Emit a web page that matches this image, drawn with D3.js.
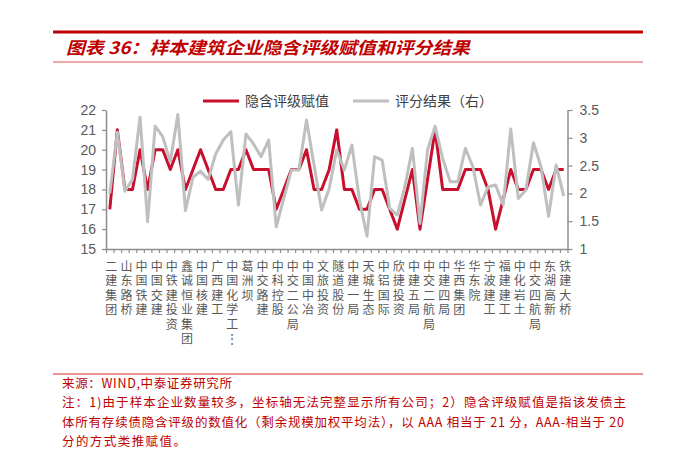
<!DOCTYPE html>
<html>
<head>
<meta charset="utf-8">
<script src="https://cdn.jsdelivr.net/npm/d3@7"></script>
<style>
  body { margin: 0; background: #fff; }
  svg { font-family: "Noto Sans CJK SC", "Liberation Sans", sans-serif; }
  .tick text { font-family: "Liberation Sans", Arial, sans-serif; }
  .cat { font-family: "Liberation Sans", "Noto Sans CJK SC", sans-serif; }
</style>
</head>
<body>
<div id="chart"></div>
<script>
// 61 companies on the x axis, only every second one gets a label in the original
var labels = ["二建集团", "山东路桥", "中国铁建", "中国交建", "中铁建投资", "鑫诚恒业集团",
  "中国核建", "广西建工", "中国化学工⋮", "葛洲坝", "中交路建", "中科控股", "中交二公局",
  "中国中冶", "文旅投资", "隧道股份", "中建一局", "天城生态", "中铝国际", "欣捷投资",
  "中建五局", "中交二航局", "中建四局", "华西集团", "华东院", "宁波建工", "福建建工",
  "中化岩土", "中交四航局", "东湖高新", "铁建大桥"];

// 隐含评级赋值 (left axis)
var ratingValues = [17, 21, 18, 18, 20, 18, 20, 20, 19, 20,
  18, 19, 20, 19, 18, 18, 19, 19, 20, 19,
  19, 19, 17, 18, 19, 19, 20, 18, 18, 19,
  21, 18, 18, 17, 17, 18, 18, 17, 16, 17.5,
  19, 16, 18.5, 21, 18, 18, 18, 19, 19, 19,
  18, 16, 17.5, 19, 18, 18, 19, 19, 18, 19, 19];

// 评分结果 (right axis)
var scoreValues = [2.0, 3.1, 2.04, 2.25, 3.37, 1.49, 3.21, 3.02, 2.57, 3.42,
  1.69, 2.29, 2.4, 2.25, 2.71, 2.96, 3.11, 1.79, 3.07, 2.89,
  2.66, 2.96, 1.4, 1.91, 2.42, 2.42, 3.32, 2.51, 1.7, 2.09,
  2.78, 2.42, 2.87, 1.88, 1.23, 2.66, 2.6, 1.73, 1.61, 2.12,
  2.81, 1.46, 2.78, 3.21, 2.63, 2.21, 2.21, 2.81, 2.48, 1.79,
  2.12, 2.15, 1.79, 3.16, 1.91, 2.06, 2.91, 2.48, 1.59, 2.51, 1.95];

var leftTicks = [15, 16, 17, 18, 19, 20, 21, 22];
var rightTicks = [1, 1.5, 2, 2.5, 3, 3.5];

var svgWidth = 700;
var svgHeight = 462;
var plot = { left: 106, right: 567.5, top: 110, bottom: 249 };

var red = "#C8102E";
var grey = "#BFBFBF";
var axisGrey = "#8C8C8C";
var textGrey = "#595959";
var titleRed = "#C00000";

var svg = d3.select("#chart")
  .append("svg")
  .attr("width", svgWidth)
  .attr("height", svgHeight);

// title block
svg.append("line")
  .attr("x1", 53).attr("x2", 643)
  .attr("y1", 32).attr("y2", 32)
  .attr("stroke", titleRed)
  .attr("stroke-width", 3);

svg.append("text")
  .attr("x", 66)
  .attr("y", 54)
  .attr("fill", titleRed)
  .attr("font-size", 17)
  .attr("font-weight", "bold")
  .attr("font-style", "italic")
  .attr("textLength", 404)
  .attr("lengthAdjust", "spacingAndGlyphs")
  .text("图表 36：样本建筑企业隐含评级赋值和评分结果");

svg.append("line")
  .attr("x1", 53).attr("x2", 643)
  .attr("y1", 62).attr("y2", 62)
  .attr("stroke", "#D9534F")
  .attr("stroke-width", 1);

// scales
var n = ratingValues.length;
var x = d3.scaleBand()
  .domain(d3.range(n))
  .range([plot.left, plot.right])
  .paddingInner(0)
  .paddingOuter(0);

var xEdge = d3.scaleLinear()
  .domain([0, n])
  .range([plot.left, plot.right]);

var yLeft = d3.scaleLinear()
  .domain([15, 22])
  .range([plot.bottom, plot.top]);

var yRight = d3.scaleLinear()
  .domain([1, 3.5])
  .range([plot.bottom, plot.top]);

var cx = i => x(i) + x.bandwidth() / 2;

// axes
var leftAxis = svg.append("g")
  .attr("transform", `translate(${plot.left}, 0)`)
  .call(d3.axisLeft(yLeft).tickValues(leftTicks).tickSize(4).tickSizeOuter(0).tickPadding(6)
    .tickFormat(d => String(d)));

var rightAxis = svg.append("g")
  .attr("transform", `translate(${plot.right}, 0)`)
  .call(d3.axisRight(yRight).tickValues(rightTicks).tickSize(5).tickSizeOuter(0).tickPadding(7)
    .tickFormat(d => String(d)));

var bottomAxis = svg.append("g")
  .attr("transform", `translate(0, ${plot.bottom})`)
  .call(d3.axisBottom(xEdge).tickValues(d3.range(n + 1)).tickSize(4).tickSizeOuter(0).tickFormat(""));

[leftAxis, rightAxis, bottomAxis].forEach(function(g) {
  g.select(".domain").attr("stroke", axisGrey).attr("stroke-width", 1.5);
  g.selectAll(".tick line").attr("stroke", axisGrey).attr("stroke-width", 1.2);
  g.selectAll(".tick text")
    .attr("fill", textGrey)
    .attr("font-size", 14);
});

// vertical category labels, every second company, one character per row
var labelGroup = svg.append("g");
labels.forEach(function(name, k) {
  Array.from(name).forEach(function(ch, j) {
    labelGroup.append("text")
      .classed("cat", true)
      .attr("text-anchor", "middle")
      .attr("fill", textGrey)
      .attr("font-size", 12)
      .attr("x", cx(k * 2) + 1.5)
      .attr("y", 271 + j * 14.4)
      .text(ch);
  });
});

// lines
var ratingLine = d3.line()
  .x((d, i) => cx(i))
  .y(d => yLeft(d));

var scoreLine = d3.line()
  .x((d, i) => cx(i))
  .y(d => yRight(d));

svg.append("path")
  .datum(ratingValues)
  .attr("fill", "none")
  .attr("stroke", red)
  .attr("stroke-width", 3)
  .attr("stroke-linejoin", "round")
  .attr("d", ratingLine);

svg.append("path")
  .datum(scoreValues)
  .attr("fill", "none")
  .attr("stroke", grey)
  .attr("stroke-width", 3)
  .attr("stroke-linejoin", "round")
  .attr("d", scoreLine);

// legend
var legend = [
  { name: "隐含评级赋值", color: red, x: 203 },
  { name: "评分结果（右）", color: grey, x: 353 }
];
legend.forEach(function(item) {
  svg.append("line")
    .attr("x1", item.x).attr("x2", item.x + 36)
    .attr("y1", 101).attr("y2", 101)
    .attr("stroke", item.color)
    .attr("stroke-width", 3);
  svg.append("text")
    .attr("x", item.x + 42)
    .attr("y", 106)
    .attr("fill", "#404040")
    .attr("font-size", 14)
    .text(item.name);
});

// footer
svg.append("line")
  .attr("x1", 53).attr("x2", 643)
  .attr("y1", 374).attr("y2", 374)
  .attr("stroke", "#E07070")
  .attr("stroke-width", 1.5);

var notes = [
  { text: "来源：WIND,中泰证券研究所", y: 388, len: 170 },
  { text: "注：1)由于样本企业数量较多，坐标轴无法完整显示所有公司；2）隐含评级赋值是指该发债主", y: 407, len: 564 },
  { text: "体所有存续债隐含评级的数值化（剩余规模加权平均法），以 AAA 相当于 21 分，AAA-相当于 20", y: 427, len: 562 },
  { text: "分的方式类推赋值。", y: 446, len: 124 }
];
notes.forEach(function(note) {
  svg.append("text")
    .attr("x", 62)
    .attr("y", note.y)
    .attr("fill", titleRed)
    .attr("font-size", 12.5)
    .attr("textLength", note.len)
    .attr("lengthAdjust", "spacing")
    .text(note.text);
});
</script>
</body>
</html>
